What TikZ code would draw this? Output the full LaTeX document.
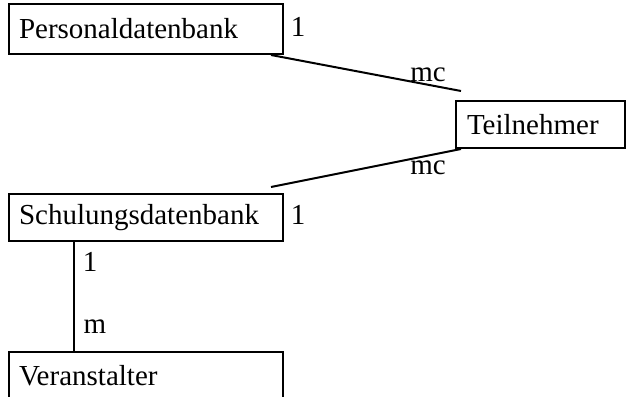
\documentclass[tikz,border=0pt]{standalone}
\usepackage{fontspec}
\setmainfont{Liberation Serif}
\usetikzlibrary{calc}
\begin{document}
\begin{tikzpicture}[x=1pt,y=-1pt,line width=2pt,
	font=\fontsize{29}{34}\selectfont,
	entity/.style={draw,minimum height=47pt,inner xsep=10pt,inner ysep=0pt,align=left},
	card/.style={inner sep=0pt}]
	%frame
	\clip (0,0) rectangle (626,396);

	%entities
	\node[entity,text width=254pt,minimum height=50pt] (pdb) at (146,29) {Personaldatenbank};
	\node[entity,text width=147pt,inner xsep=11pt] (tn) at (540.5,124.5) {Teilnehmer};
	\node[entity,text width=254pt] (sdb) at (146,217.5) {Schulungsdatenbank};
	\node[entity,text width=254pt] (ver) at (146,375.5) {Veranstalter};

	%free line ends
	\coordinate (pdbout) at ($(pdb.south east)+(-13,0)$);
	\coordinate (tnin) at ($(tn.north west)+(6,-9)$);
	\coordinate (tnout) at ($(tn.south west)+(6,0)$);
	\coordinate (sdbin) at ($(sdb.north east)+(-13,-6)$);
	\coordinate (sdbdown) at ($(sdb.south west)+(66,0)$);
	\coordinate (verup) at ($(ver.north west)+(66,0)$);

	%relations
	\draw (pdbout) -- (tnin); %Personal - Teilnehmer
	\draw (tnout) -- (sdbin); %Teilnehmer - Schulung
	\draw (sdbdown) -- (verup); %Schulung - Veranstalter

	%cardinalities
	\node[card] (c1) at (298,27) {1};
	\node[card] (c2) at (428,75) {mc};
	\node[card] (c3) at (428,168) {mc};
	\node[card] (c4) at (298,215) {1};
	\node[card] (c5) at (90,262) {1};
	\node[card] (c6) at (95,327) {m};
\end{tikzpicture}
\end{document}
